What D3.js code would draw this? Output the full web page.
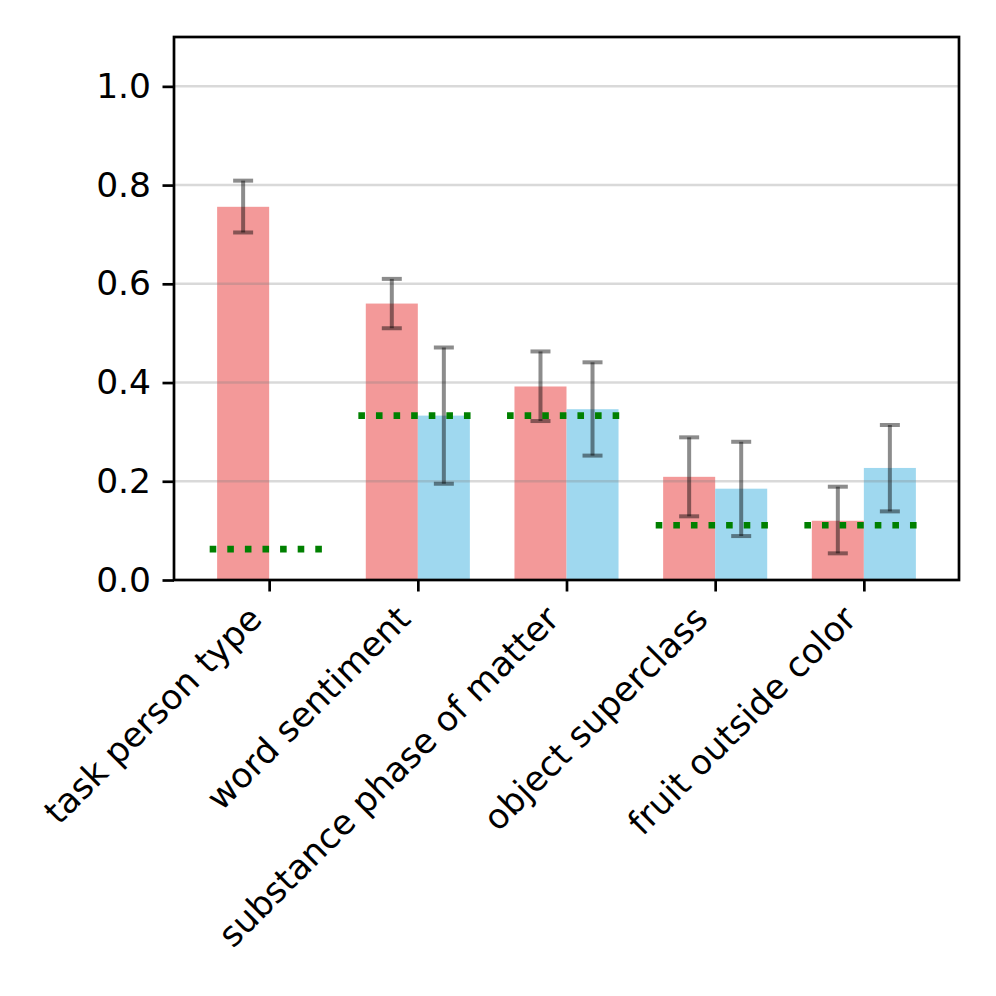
<!DOCTYPE html>
<html>
<head>
<meta charset="utf-8">
<script src="https://cdn.jsdelivr.net/npm/d3@7"></script>
<style>
  body { margin: 0; background: #fff; }
  text { font-family: "DejaVu Sans", sans-serif; }
</style>
</head>
<body>
<div class="chart"></div>
<script>
// DATA ---------------------------------------------------------------

const categories = ['task person type', 'word sentiment', 'substance phase of matter',
                    'object superclass', 'fruit outside color'];

// red series: bar height and error bar ends
const redValues = [0.756, 0.560, 0.392, 0.209, 0.120];
const redLow    = [0.704, 0.510, 0.322, 0.129, 0.054];
const redHigh   = [0.809, 0.610, 0.463, 0.289, 0.189];

// blue series (no bar for the first category)
const blueValues = [null, 0.333, 0.346, 0.185, 0.227];
const blueLow    = [null, 0.195, 0.252, 0.089, 0.139];
const blueHigh   = [null, 0.471, 0.441, 0.280, 0.314];

// chance level, dotted green
const chance = [0.0625, 0.333, 0.333, 0.111, 0.111];

const yTicks = [0.0, 0.2, 0.4, 0.6, 0.8, 1.0];

// CHART INIT ---------------------------------------------------------

const margin = ({top: 37, right: 37, bottom: 416, left: 174});
const width = 996 - margin.left - margin.right;
const height = 996 - margin.top - margin.bottom;
const fontSize = 34.5;

const svg = d3.select('.chart')
    .append('svg')
    .attr('width', 996)
    .attr('height', 996)
    .append('g')
    .attr('transform', 'translate(' + margin.left + ',' + margin.top + ')');

const barWidth = 0.35;

const xScale = d3.scaleLinear()
    .domain([-0.64, categories.length - 1 + 0.64])
    .range([0, width]);

const yScale = d3.scaleLinear()
    .domain([0, 1.1])
    .range([height, 0]);

const rows = categories.map((c, i) => ({
    i: i, name: c,
    red: redValues[i], redLow: redLow[i], redHigh: redHigh[i],
    blue: blueValues[i], blueLow: blueLow[i], blueHigh: blueHigh[i],
    chance: chance[i]
}));

// bars
svg.selectAll('.bar-red')
    .data(rows)
    .enter()
    .append('rect')
    .attr('class', 'bar-red')
    .attr('x', d => xScale(d.i - barWidth))
    .attr('width', xScale(barWidth) - xScale(0))
    .attr('y', d => yScale(d.red))
    .attr('height', d => yScale(0) - yScale(d.red))
    .attr('fill', 'lightcoral')
    .attr('fill-opacity', 0.8);

svg.selectAll('.bar-blue')
    .data(rows.filter(d => d.blue != null))
    .enter()
    .append('rect')
    .attr('class', 'bar-blue')
    .attr('x', d => xScale(d.i))
    .attr('width', xScale(barWidth) - xScale(0))
    .attr('y', d => yScale(d.blue))
    .attr('height', d => yScale(0) - yScale(d.blue))
    .attr('fill', 'skyblue')
    .attr('fill-opacity', 0.8);

// grid
svg.append('g')
    .selectAll('line')
    .data(yTicks.slice(1))
    .enter()
    .append('line')
    .attr('x1', 0)
    .attr('x2', width)
    .attr('y1', d => yScale(d))
    .attr('y2', d => yScale(d))
    .attr('stroke', '#808080')
    .attr('stroke-opacity', 0.3)
    .attr('stroke-width', 2.5);

// error bars
function errorBars(data, center, low, high) {
    const g = svg.append('g')
        .attr('stroke', '#000')
        .attr('stroke-opacity', 0.45)
        .attr('stroke-width', 4);
    const cap = 10;
    data.forEach(d => {
        const cx = xScale(center(d));
        g.append('line')
            .attr('x1', cx).attr('x2', cx)
            .attr('y1', yScale(low(d))).attr('y2', yScale(high(d)));
        g.append('line')
            .attr('x1', cx - cap).attr('x2', cx + cap)
            .attr('y1', yScale(low(d))).attr('y2', yScale(low(d)));
        g.append('line')
            .attr('x1', cx - cap).attr('x2', cx + cap)
            .attr('y1', yScale(high(d))).attr('y2', yScale(high(d)));
    });
}
errorBars(rows, d => d.i - barWidth / 2, d => d.redLow, d => d.redHigh);
errorBars(rows.filter(d => d.blue != null), d => d.i + barWidth / 2, d => d.blueLow, d => d.blueHigh);

// chance lines
svg.selectAll('.chance')
    .data(rows)
    .enter()
    .append('line')
    .attr('class', 'chance')
    .attr('x1', d => xScale(d.i - 0.4))
    .attr('x2', d => xScale(d.i + 0.4))
    .attr('y1', d => yScale(d.chance))
    .attr('y2', d => yScale(d.chance))
    .attr('stroke', 'green')
    .attr('stroke-width', 6.6)
    .attr('stroke-dasharray', '6.6,11');

// axes
const xAxis = d3.axisBottom(xScale)
    .tickValues(d3.range(categories.length))
    .tickFormat(i => categories[i])
    .tickSize(11.5)
    .tickPadding(11.5);

const yAxis = d3.axisLeft(yScale)
    .tickValues(yTicks)
    .tickFormat(d3.format('.1f'))
    .tickSize(11.5)
    .tickPadding(11.5);

const gx = svg.append('g')
    .attr('class', 'axis x-axis')
    .attr('transform', 'translate(0,' + height + ')')
    .call(xAxis);

gx.selectAll('text')
    .attr('font-size', fontSize)
    .attr('fill', '#000')
    .attr('text-anchor', 'end')
    .attr('dy', null)
    .attr('y', null)
    .attr('transform', 'translate(-6,41) rotate(-45)');

const gy = svg.append('g')
    .attr('class', 'axis y-axis')
    .call(yAxis);

gy.selectAll('text')
    .attr('font-size', fontSize)
    .attr('fill', '#000');

svg.selectAll('.axis .domain').remove();
svg.selectAll('.axis .tick line')
    .attr('stroke', '#000')
    .attr('stroke-width', 2.7);

// frame
svg.append('rect')
    .attr('x', 0)
    .attr('y', 0)
    .attr('width', width)
    .attr('height', height)
    .attr('fill', 'none')
    .attr('stroke', '#000')
    .attr('stroke-width', 2.7);
</script>
</body>
</html>
